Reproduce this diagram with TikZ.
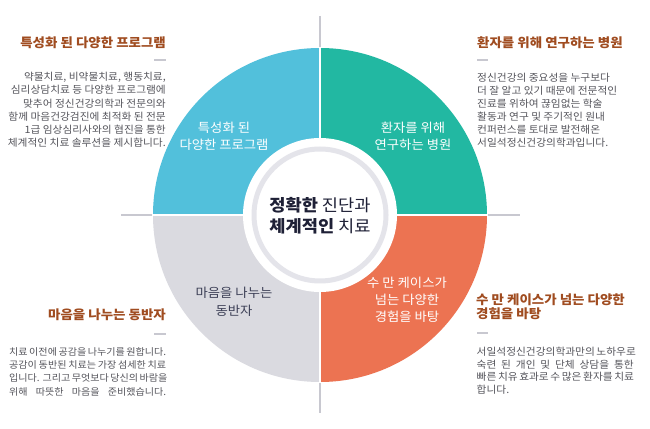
\documentclass[tikz,border=0pt]{standalone}
\usepackage{fontspec}
\setmainfont{Noto Sans CJK KR}[FakeStretch=1.06]
\definecolor{cblue}{RGB}{82,192,219}
\definecolor{cteal}{RGB}{34,184,162}
\definecolor{corange}{RGB}{236,115,82}
\definecolor{cgray}{RGB}{218,218,224}
\definecolor{ringgray}{RGB}{228,228,234}
\definecolor{axisgray}{RGB}{200,200,208}
\definecolor{titlebrown}{RGB}{160,76,32}
\definecolor{bodygray}{RGB}{85,85,92}
\definecolor{navy}{RGB}{30,32,54}
\definecolor{sectdark}{RGB}{60,63,86}
\begin{document}
\begin{tikzpicture}[x=1pt,y=1pt,
  axisline/.style={axisgray,line width=1.4pt},
  gapline/.style={white,line width=1.6pt},
  dashmark/.style={axisgray,line width=1.2pt},
  sectw/.style={white,anchor=base,inner sep=0pt,font=\fontsize{12.6}{15}\selectfont},
  sectd/.style={sectdark,anchor=base,inner sep=0pt,font=\fontsize{12.6}{15}\selectfont},
  centertext/.style={navy,anchor=base,inner sep=0pt,font=\fontsize{16.6}{20}\selectfont},
  titler/.style={titlebrown,anchor=base east,inner sep=0pt,font=\fontsize{12.7}{14}\selectfont\bfseries},
  titlel/.style={titlebrown,anchor=base west,inner sep=0pt,font=\fontsize{12.7}{14}\selectfont\bfseries},
  bodyr/.style={bodygray,anchor=base east,inner sep=0pt,font=\fontsize{10.1}{12}\selectfont},
  bodyl/.style={bodygray,anchor=base west,inner sep=0pt,font=\fontsize{10.1}{12}\selectfont},
  bodyj/.style={bodygray,anchor=base west,inner sep=0pt,font=\fontsize{9.5}{12}\selectfont},
]
\useasboundingbox (0,0) rectangle (650,428);
\fill[white] (0,0) rectangle (650,428);
\coordinate (C) at (320,213);
\coordinate (vt) at (320,412);
\coordinate (vb) at (320,15);
\coordinate (hl) at (121,213);
\coordinate (hr) at (520,213);
\draw[axisline] (vt) -- (vb);
\draw[axisline] (hl) -- (hr);
% sectors
\fill[cblue]   (C) -- ++(-167,0) arc[start angle=180,end angle=90,radius=167] -- cycle;
\fill[cteal]   (C) -- ++(0,167) arc[start angle=90,end angle=0,radius=167] -- cycle;
\fill[corange] (C) -- ++(167,0) arc[start angle=0,end angle=-90,radius=167] -- cycle;
\fill[cgray]   (C) -- ++(0,-167) arc[start angle=270,end angle=180,radius=167] -- cycle;
\draw[gapline] ([yshift=168]C) -- ([yshift=-168]C);
\draw[gapline] ([xshift=-168]C) -- ([xshift=168]C);
% center
\fill[white] (C) circle[radius=77];
\draw[ringgray,line width=5pt] (C) circle[radius=66];
\node[centertext] (c1) at (320,216.3) {\textbf{정확한} 진단과};
\node[centertext] (c2) at (320,195.3) {\textbf{체계적인} 치료};
% sector labels
\node[sectw] (b1) at (224,295.4) {특성화 된};
\node[sectw] (b2) at (224,278.4) {다양한 프로그램};
\node[sectw] (t1) at (413,295.4) {환자를 위해};
\node[sectw] (t2) at (413,278.4) {연구하는 병원};
\node[sectd] (g1) at (234,130.4) {마음을 나누는};
\node[sectd] (g2) at (234,112.4) {동반자};
\node[sectw] (o1) at (407,140.4) {수 만 케이스가};
\node[sectw] (o2) at (407,123.4) {넘는 다양한};
\node[sectw] (o3) at (407,106.4) {경험을 바탕};
% titles
\node[titler] (tlt) at (166,380.3) {특성화 된 다양한 프로그램};
\node[titlel] (trt) at (477,380.3) {환자를 위해 연구하는 병원};
\node[titler] (blt) at (166,108.3) {마음을 나누는 동반자};
\node[titlel] (brt1) at (476,123.3) {수 만 케이스가 넘는 다양한};
\node[titlel] (brt2) at (476,109.8) {경험을 바탕};
% dashes
\coordinate (d1a) at (154,368); \coordinate (d1b) at (166,368);
\coordinate (d2a) at (477,368); \coordinate (d2b) at (488,368);
\coordinate (d3a) at (154,94);  \coordinate (d3b) at (166,94);
\coordinate (d4a) at (477,95);  \coordinate (d4b) at (488,95);
\draw[dashmark] (d1a) -- (d1b);
\draw[dashmark] (d2a) -- (d2b);
\draw[dashmark] (d3a) -- (d3b);
\draw[dashmark] (d4a) -- (d4b);
% bodies
\foreach \t [count=\i] in {{약물치료, 비약물치료, 행동치료,},{심리상담치료 등 다양한 프로그램에},{맞추어 정신건강의학과 전문의와},{함께 마음건강검진에 최적화 된 전문},{1급 임상심리사와의 협진을 통한},{체계적인 치료 솔루션을 제시합니다.}}
  \node[bodyr] (tl\i) at (166,{360.5-13.2*\i}) {\t};
\foreach \t [count=\i] in {{정신건강의 중요성을 누구보다},{더 잘 알고 있기 때문에 전문적인},{진료를 위하여 끊임없는 학술},{활동과 연구 및 주기적인 원내},{컨퍼런스를 토대로 발전해온},{서일석정신건강의학과입니다.}}
  \node[bodyl] (tr\i) at (477,{359.9-13.1*\i}) {\t};
\foreach \t [count=\i] in {{치료 이전에 공감을 나누기를 원합니다.},{공감이 동반된 치료는 가장 섬세한 치료},{입니다. 그리고 무엇보다 당신의 바람을},{위해 따뜻한 마음을 준비했습니다.}}
  \node[bodyj] (bl\i) at (9,{85.9-13.3*\i}) {\makebox[157pt][s]{\t}};
\foreach \t [count=\i] in {{서일석정신건강의학과만의 노하우로},{숙련 된 개인 및 단체 상담을 통한},{빠른 치유 효과로 수 많은 환자를 치료}}
  \node[bodyl] (br\i) at (476.5,{85.7-12.9*\i}) {\makebox[157pt][s]{\t}};
\node[bodyl] (br4) at (476.5,34.1) {합니다.};
\end{tikzpicture}
\end{document}
